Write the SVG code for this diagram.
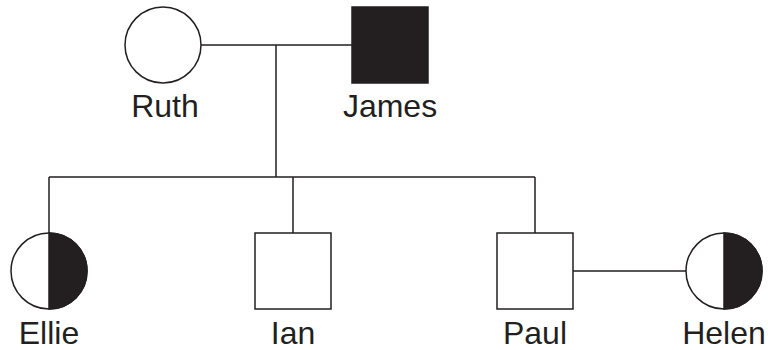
<svg xmlns="http://www.w3.org/2000/svg" width="768" height="350" viewBox="0 0 768 350">
<style>
.n{fill:#fff;stroke:#231f20;stroke-width:1.5}
.a{fill:#231f20;stroke:#231f20;stroke-width:1.5}
.l{fill:none;stroke:#231f20;stroke-width:1.5}
text{font-family:"Liberation Sans",Arial,sans-serif;font-size:32px;fill:#231f20;text-anchor:middle}
</style>
<rect width="768" height="350" fill="#fff"/>
<g id="connectors">
<path class="l" d="M201 45H352M276 45V177M49 177H535M49 177V233M293 177V233M535 177V233M573 271H686"/>
</g>
<g id="ruth"><circle class="n" cx="163" cy="45" r="38"/><text x="165" y="117">Ruth</text></g>
<g id="james"><rect class="a" x="352" y="7" width="76" height="76"/><text x="390" y="117">James</text></g>
<g id="ellie"><circle class="n" cx="49" cy="271" r="38"/><path class="a" d="M49 233A38 38 0 0 1 49 309Z"/><text x="49" y="344">Ellie</text></g>
<g id="ian"><rect class="n" x="255" y="233" width="76" height="76"/><text x="293" y="344">Ian</text></g>
<g id="paul"><rect class="n" x="497" y="233" width="76" height="76"/><text x="535" y="344">Paul</text></g>
<g id="helen"><circle class="n" cx="724" cy="271" r="38"/><path class="a" d="M724 233A38 38 0 0 1 724 309Z"/><text x="724" y="344">Helen</text></g>
</svg>
